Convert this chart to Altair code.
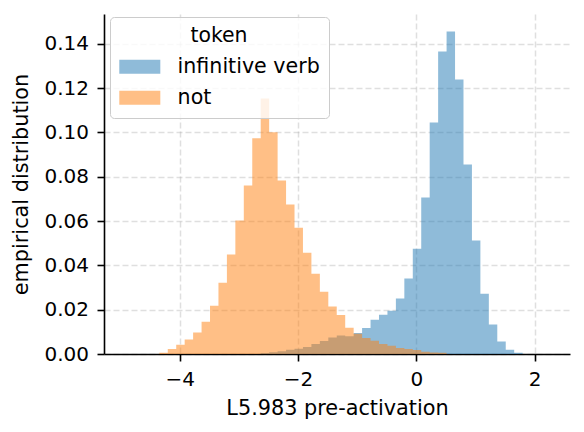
import altair as alt
import pandas as pd

# Histogram bins (shared by both series)
bin_start = -4.343
bin_width = 0.1428

tokens = ["infinitive verb", "not"]

infinitive_verb = [
    0.0, 0.0, 0.0, 0.0, 0.0, 0.0, 0.0, 0.0, 0.0, 0.0, 0.0, 0.0,
    0.0005, 0.0008, 0.0012, 0.0019, 0.0024, 0.0032, 0.0045, 0.0059,
    0.0074, 0.0084, 0.0080, 0.0095, 0.0117, 0.0155, 0.0177, 0.0195,
    0.0250, 0.0341, 0.0475, 0.0706, 0.1044, 0.1365, 0.1455, 0.1238,
    0.0855, 0.0512, 0.0272, 0.0133, 0.0056, 0.0019, 0.0006,
]

not_token = [
    0.0006, 0.0023, 0.0042, 0.0065, 0.0097, 0.0146, 0.0218, 0.0322,
    0.0449, 0.0602, 0.0760, 0.0973, 0.1153, 0.1000, 0.0783, 0.0674,
    0.0570, 0.0457, 0.0362, 0.0281, 0.0214, 0.0176, 0.0119, 0.0091,
    0.0072, 0.0060, 0.0045, 0.0037, 0.0027, 0.0023, 0.0018, 0.0010,
    0.0007, 0.0006, 0.0, 0.0, 0.0, 0.0, 0.0, 0.0, 0.0, 0.0, 0.0,
]

x_ticks = [-4, -2, 0, 2]
y_ticks = [0.0, 0.02, 0.04, 0.06, 0.08, 0.10, 0.12, 0.14]

# Step-shaped histogram outline: one point per bin left edge, closed at the last right edge
rows = []
for name, vals in zip(tokens, [infinitive_verb, not_token]):
    for i, v in enumerate(vals):
        rows.append({"token": name, "edge": bin_start + i * bin_width, "density": v})
    rows.append({"token": name, "edge": bin_start + len(vals) * bin_width, "density": 0.0})
df = pd.DataFrame(rows)

rect_path = "M-1.43,-1L4.43,-1L4.43,1L-1.43,1Z"

chart = alt.Chart(df).mark_area(opacity=0.5, interpolate="step-after", strokeWidth=0).encode(
    x=alt.X("edge:Q",
            scale=alt.Scale(domain=[-5.278, 2.598], nice=False, zero=False),
            axis=alt.Axis(values=x_ticks, format="d", title="L5.983 pre-activation",
                          titlePadding=9, labelPadding=8)),
    y=alt.Y("density:Q", stack=None,
            scale=alt.Scale(domain=[0, 0.1534], nice=False),
            axis=alt.Axis(values=y_ticks, format=".2f", title="empirical distribution",
                          titlePadding=12, labelPadding=8.5)),
    color=alt.Color("token:N",
                    scale=alt.Scale(domain=tokens, range=["#1f77b4", "#ff7f0e"]),
                    legend=alt.Legend(
                        title="token", orient="none", legendX=6, legendY=3,
                        symbolType=rect_path, symbolSize=196, symbolOpacity=0.5,
                        symbolStrokeWidth=0, labelOffset=38, rowPadding=10,
                        titlePadding=10, padding=9, titleAnchor="middle",
                        fillColor="rgba(255,255,255,0.8)", strokeColor="#cccccc",
                        cornerRadius=4, labelFontSize=20.6, titleFontSize=20.4,
                        titleFontWeight="normal", labelColor="#000000",
                        titleColor="#000000")),
).properties(
    width=466, height=340,
    autosize=alt.AutoSizeParams(type="none"),
    padding={"left": 96, "top": 6, "right": 6, "bottom": 70},
).configure(
    font="DejaVu Sans",
).configure_view(
    stroke=None,
).configure_axis(
    domainColor="#000000", domainWidth=1.6,
    tickColor="#000000", tickWidth=1.6, tickSize=7,
    labelFontSize=20, titleFontSize=20.8, titleFontWeight="normal",
    labelColor="#000000", titleColor="#000000",
    grid=True, gridColor="#b0b0b0", gridOpacity=0.4, gridWidth=1.5, gridDash=[6, 3],
    zindex=1,
)

chart.save("out.html", embed_options={"renderer": "svg", "actions": False})
